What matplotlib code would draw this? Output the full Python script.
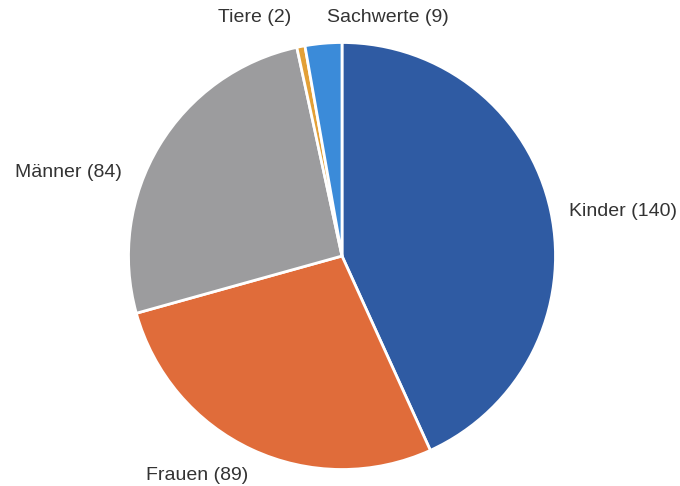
import matplotlib
matplotlib.use("Agg")
import matplotlib.pyplot as plt

labels = ["Kinder", "Frauen", "Männer", "Tiere", "Sachwerte"]
values = [140, 89, 84, 2, 9]
colors = ["#2f5ba3", "#e06c3a", "#9c9c9e", "#e3a036", "#3b8bd9"]

# label anchor points (left edge, vertical centre) in pie-radius units
label_pos = [(1.065, 0.21), (-0.92, -1.03), (-1.53, 0.39), (-0.58, 1.115), (-0.07, 1.115)]

W, H = 680, 486
cx, cy, r = 342, 256, 213.5

fig = plt.figure(figsize=(W / 100, H / 100), dpi=100)
ax = fig.add_axes([0, 0, 1, 1])

ax.pie(values, colors=colors, startangle=90, counterclock=False,
       wedgeprops=dict(edgecolor="white", linewidth=2))

for name, v, (x, y) in zip(labels, values, label_pos):
    ax.text(x, y, f"{name} ({v})", ha="left", va="center",
            fontsize=14, color="#333333", family="Liberation Sans")

ax.set_xlim(-cx / r, (W - cx) / r)
ax.set_ylim(-(H - cy) / r, cy / r)
ax.set_aspect("auto")
ax.axis("off")

fig.savefig("out.png", dpi=100, facecolor="white")
